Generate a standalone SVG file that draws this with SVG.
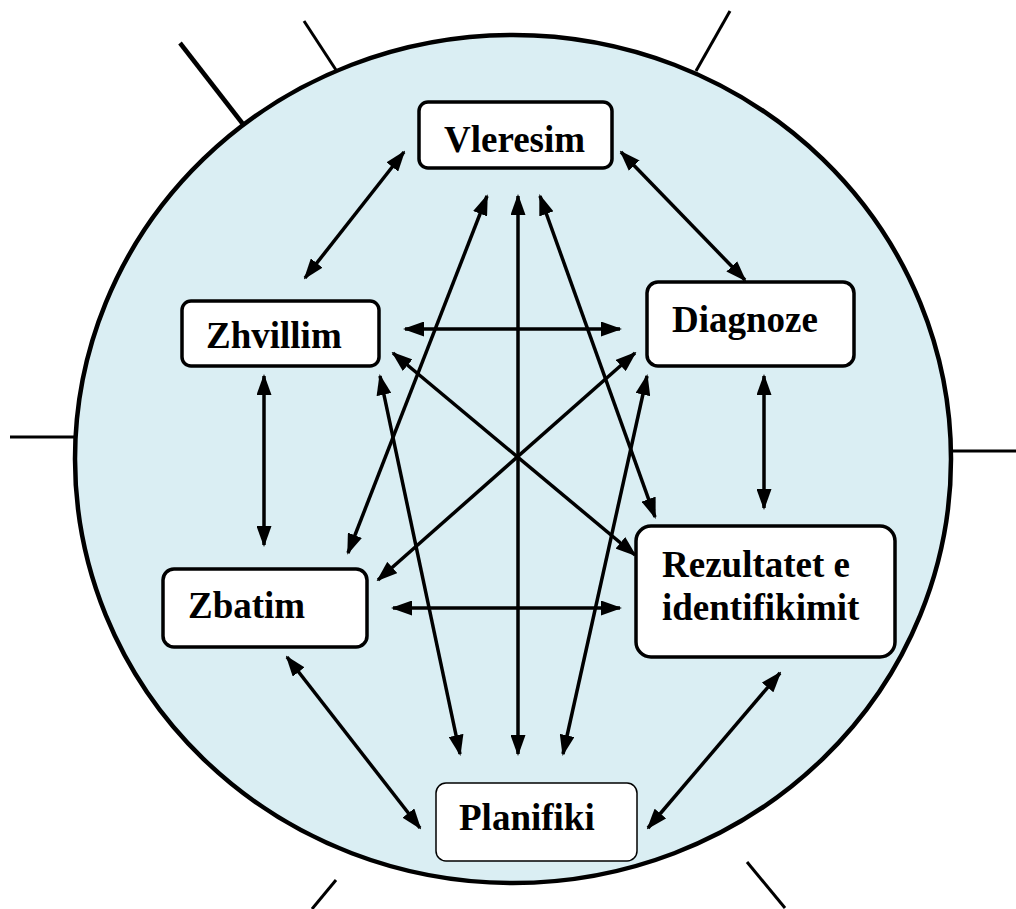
<svg xmlns="http://www.w3.org/2000/svg" width="1016" height="909" viewBox="0 0 1016 909">
<style>
.lbl{font-family:"Liberation Serif","Times New Roman",serif;font-weight:bold;font-size:37px;fill:#000}
.box{fill:#fff;stroke:#000;stroke-width:3.5}
.con line{stroke:#000;stroke-width:3.5;marker-start:url(#ah);marker-end:url(#ah)}
.tick{stroke:#000;fill:none}
</style>
<defs>
<marker id="ah" viewBox="0 0 21 15" markerWidth="21" markerHeight="15" refX="19" refY="7.5" orient="auto-start-reverse" markerUnits="userSpaceOnUse">
<path d="M0,0 L21,7.5 L0,15 z" fill="#000"/>
</marker>
</defs>
<rect width="1016" height="909" fill="#fff"/>
<g id="ticks">
<line class="tick" x1="180" y1="43" x2="253" y2="137" stroke-width="4.5"/>
<line class="tick" x1="304" y1="21" x2="336" y2="70" stroke-width="3"/>
<line class="tick" x1="730" y1="11" x2="696" y2="71" stroke-width="3"/>
<line class="tick" x1="10" y1="437" x2="75" y2="437" stroke-width="3"/>
<line class="tick" x1="952" y1="451" x2="1016" y2="451" stroke-width="3"/>
<line class="tick" x1="336" y1="880" x2="312" y2="909" stroke-width="3"/>
<line class="tick" x1="747" y1="862" x2="785" y2="908" stroke-width="3"/>
</g>
<ellipse id="circle" cx="513" cy="459" rx="438" ry="424" fill="#DAEEF3" stroke="#000" stroke-width="4.5"/>
<g id="connectors" class="con">
<line x1="404" y1="152" x2="305" y2="278"/>
<line x1="621" y1="152" x2="745" y2="280"/>
<line x1="405" y1="329" x2="620" y2="329"/>
<line x1="264" y1="376" x2="264" y2="545"/>
<line x1="764" y1="376" x2="764" y2="508"/>
<line x1="393" y1="608" x2="620" y2="608"/>
<line x1="287" y1="657" x2="420" y2="828"/>
<line x1="780" y1="673" x2="648" y2="828"/>
<line x1="393" y1="353" x2="635" y2="555"/>
<line x1="635" y1="353" x2="378" y2="580"/>
<line x1="518" y1="196" x2="518" y2="754"/>
<line x1="487" y1="196" x2="348" y2="553"/>
<line x1="540" y1="196" x2="655" y2="517"/>
<line x1="380" y1="376" x2="460" y2="754"/>
<line x1="647" y1="376" x2="563" y2="754"/>
</g>
<g id="vleresim">
<rect class="box" x="419" y="102" width="193" height="66" rx="9"/>
<text class="lbl" x="444" y="152">Vleresim</text>
</g>
<g id="zhvillim">
<rect class="box" x="182" y="301" width="197" height="65" rx="9"/>
<text class="lbl" x="206" y="348">Zhvillim</text>
</g>
<g id="diagnoze">
<rect class="box" x="647" y="282" width="207" height="84" rx="11"/>
<text class="lbl" x="672" y="332">Diagnoze</text>
</g>
<g id="zbatim">
<rect class="box" x="163" y="569" width="204" height="78" rx="11"/>
<text class="lbl" x="188" y="618">Zbatim</text>
</g>
<g id="rezultatet">
<rect class="box" x="636" y="526" width="259" height="131" rx="15"/>
<text class="lbl" x="662" y="577">Rezultatet e</text>
<text class="lbl" x="662" y="620">identifikimit</text>
</g>
<g id="planifiki">
<rect x="436" y="783" width="201" height="78" rx="10" fill="#fff" stroke="#000" stroke-width="1.5"/>
<text class="lbl" x="459" y="830">Planifiki</text>
</g>
</svg>
